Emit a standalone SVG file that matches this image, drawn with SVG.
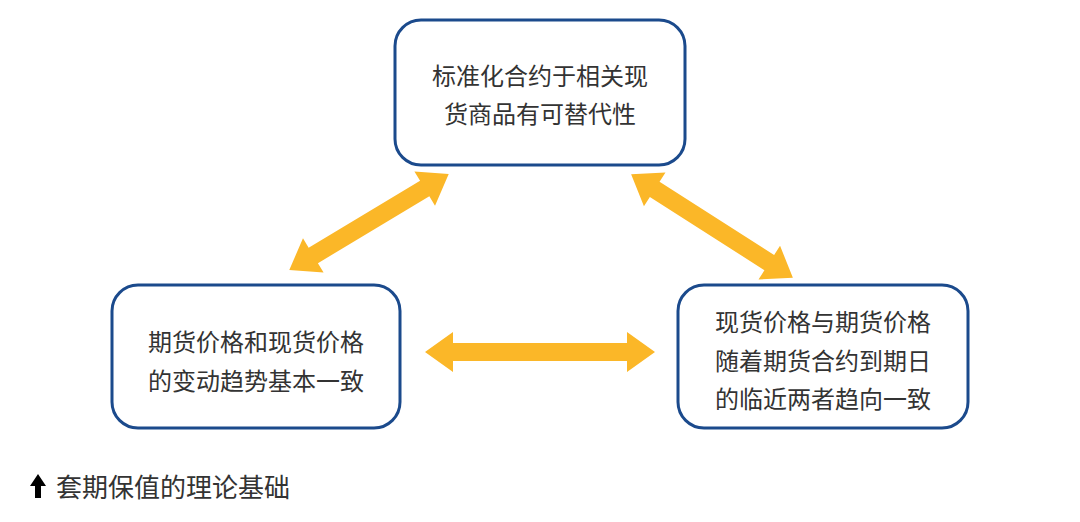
<svg xmlns="http://www.w3.org/2000/svg" width="1080" height="522" viewBox="0 0 1080 522">
<style>
.box{fill:#fff;stroke:#1b4a8c;stroke-width:3}
.t{font-family:"Noto Sans CJK SC","Noto Sans",sans-serif;font-size:24px;fill:#333;text-anchor:middle}
.arr{fill:#fbb728}
</style>
<rect width="1080" height="522" fill="#fff"/>
<g id="connectors">
<path class="arr" transform="translate(540,352)" d="M-115 0L-87-20L-87-9L87-9L87-20L115 0L87 20L87 9L-87 9L-87 20Z"/>
<path class="arr" transform="translate(369,222) rotate(-31)" d="M-93 0L-65-20L-65-9L65-9L65-20L93 0L65 20L65 9L-65 9L-65 20Z"/>
<path class="arr" transform="translate(712,226) rotate(32.6)" d="M-96 0L-68-20L-68-9L68-9L68-20L96 0L68 20L68 9L-68 9L-68 20Z"/>
</g>
<g id="top">
<rect class="box" x="395" y="20" width="290" height="145" rx="26"/>
<text class="t" x="540" y="85">标准化合约于相关现</text>
<text class="t" x="540" y="123">货商品有可替代性</text>
</g>
<g id="left">
<rect class="box" x="112" y="285" width="288" height="143" rx="26"/>
<text class="t" x="256" y="351">期货价格和现货价格</text>
<text class="t" x="256" y="390">的变动趋势基本一致</text>
</g>
<g id="right">
<rect class="box" x="678" y="285" width="290" height="143" rx="26"/>
<text class="t" x="823" y="331">现货价格与期货价格</text>
<text class="t" x="823" y="370">随着期货合约到期日</text>
<text class="t" x="823" y="408">的临近两者趋向一致</text>
</g>
<g id="caption">
<path d="M38 474L46 486L41 486L41 498L35 498L35 486L30 486Z" fill="#000"/>
<text x="56" y="497" style="font-family:'Noto Sans CJK SC',sans-serif;font-size:26px;fill:#333">套期保值的理论基础</text>
</g>
</svg>
